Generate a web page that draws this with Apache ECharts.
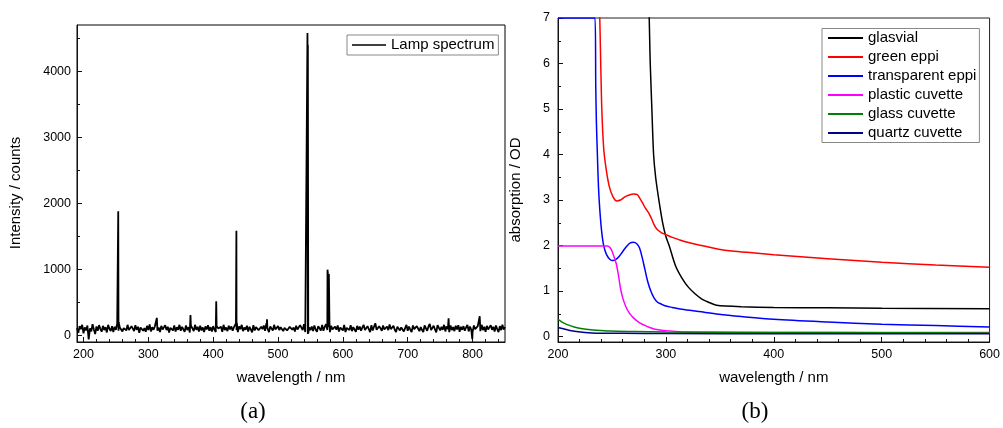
<!DOCTYPE html>
<html>
<head>
<meta charset="utf-8">
<script src="https://cdn.jsdelivr.net/npm/echarts@6/dist/echarts.min.js"></script>
<style>
html,body{margin:0;padding:0;background:#fff;}
#c{width:1003px;height:428px;}
</style>
</head>
<body>
<div id="c"></div>
<script>
// ---------- (a) Lamp spectrum ----------
const lampStart = 190, lampStep = 2;
const lampBase = [
 110, 40, 140, 95, 160, 30, 120, 75, 150, -60, 105, 60, 170, 90, 20, 135, 70, 155, 100, 55,
 145, 80, 125, 45, 160, 100, 65, 140, 50, 130, 85, 180, 70, 120, 150, 60, 110, 135, 75, 160,
 80, 50, 140, 105, 65, 155, 85, 130, 40, 120, 150, 70, 110, 55, 145, 80, 165, 60, 125, 85,
 135, 160, 70, 120, 50, 145, 90, 65, 155, 80, 130, 45, 115, 140, 75, 150, 60, 125, 85, 160,
 70, 130, 100, 55, 150, 80, 125, 45, 140, 105, 65, 160, 85, 130, 60, 145, 75, 120, 50, 135,
 90, 155, 70, 125, 60, 140, 85, 50, 150, 105, 75, 130, 55, 160, 80, 120, 65, 145, 90, 135,
 70, 125, 150, 80, 50, 135, 95, 160, 65, 120, 85, 145, 60, 130, 90, 45, 155, 75, 125, 140,
 80, 55, 130, 95, 150, 70, 180, 85, 50, 135, 120, 75, 160, 90, 60, 140, 80, 125, 155, 65,
 115, 140, 75, 50, 130, 160, 85, 120, 60, 145, 90, 70, 155, 125, 80, 170, 50, 30, 20, 120,
 80, 135, 65, 150, 90, 55, 140, 120, 75, 160, 70, 130, 170, 80, 125, 50, 145, 90, 65, 135,
 85, 150, 60, 120, 140, 75, 160, 50, 115, 130, 80, 155, 65, 125, 90, 55, 145, 85, 135, 70,
 120, 160, 80, 60, 140, 95, 50, 155, 75, 130, 185, 85, 55, 140, 120, 70, 150, 90, 60, 135,
 80, 165, 95, 65, 145, 85, 50, 130, 155, 75, 120, 140, 60, 110, 160, 70, 135, 85, 50, 150,
 95, 75, 140, 160, 65, 125, 85, 50, 150, 120, 70, 135, 175, 80, 60, 145, 90, 45, 155, 125,
 75, 130, 85, 160, 60, 140, 95, 50, 150, 80, 125, 65, 145, 90, 155, 55, 130, 85, 140, 70,
 120, 160, 60, 135, 85, 50, 150, 95, 75, 140, 125, 65, 160, 80, 130, 55, 145, 90, 70, 155,
 85, 130, 60, 150, 95, 50, 140, 80, 160, 90, 125
];
const lampPeaks = [
 [252.9, 160], [253.6, 1880], [254.3, 200],
 [312.5, 150], [313.1, 265], [313.7, 140],
 [364.4, 160], [365.0, 310], [365.6, 150],
 [404.1, 150], [404.7, 515], [405.3, 140],
 [435.1, 180], [435.8, 1585], [436.5, 190],
 [482.4, 120], [483.0, 245], [483.6, 110],
 [544.8, 60], [545.4, 4580], [546.0, 4400], [546.6, 30],
 [575.6, 180], [576.3, 995], [577.3, 890], [578.4, 930], [579.3, 200],
 [763.0, 260], [799.6, -55], [811.0, 290]
];
const lampXTicks = [200, 300, 400, 500, 600, 700, 800];
const lampXMinor = [220,240,260,280,320,340,360,380,420,440,460,480,520,540,560,580,620,640,660,680,720,740,760,780,820,840];
const lampYTicks = [0, 1000, 2000, 3000, 4000];
const lampYMinor = [500, 1500, 2500, 3500, 4500];

// ---------- (b) Absorption ----------
const absNames = ['glasvial', 'green eppi', 'transparent eppi', 'plastic cuvette', 'glass cuvette', 'quartz cuvette'];
const absColors = ['#000000', '#ff0000', '#0000ff', '#ff00ff', '#008000', '#00008b'];
const glasvial = [[284.3,7.3],[285,6.5],[285.5,6.0],[287,5.0],[288.6,4.0],[290.5,3.5],[293.5,3.0],[297,2.5],[300,2.2],[303,2.0],[309,1.55],[315,1.28],[321,1.08],[327,0.94],[333,0.83],[338,0.77],[342,0.73],[347,0.69],[355,0.67],[370,0.655],[400,0.64],[450,0.63],[500,0.62],[600,0.61]];
const greenEppi = [[238.4,7.3],[239,6.7],[239.6,6.0],[240.6,5.0],[242.3,4.15],[244.5,3.7],[247.5,3.3],[251,3.07],[254.5,2.98],[258,3.0],[262,3.07],[266,3.11],[270,3.13],[273.5,3.12],[276,3.03],[278.5,2.93],[281,2.82],[284,2.72],[286.5,2.6],[289,2.46],[292,2.35],[296,2.28],[300,2.24],[306,2.18],[312,2.13],[320,2.07],[330.6,2.01],[349,1.92],[361,1.88],[380,1.84],[400,1.8],[450,1.71],[500,1.63],[550,1.57],[600,1.52]];
const transparentEppi = [[200,7],[234.3,7],[235,5.5],[235.6,4.7],[236.5,4.0],[237.5,3.3],[238.7,2.8],[240.5,2.3],[242.5,1.98],[245,1.8],[248,1.7],[251,1.67],[254,1.7],[257,1.77],[260,1.87],[263.5,1.98],[267,2.06],[270,2.07],[273,2.04],[275.5,1.95],[278,1.74],[280.5,1.48],[283,1.22],[286,1.0],[289,0.85],[292,0.76],[296,0.71],[300,0.67],[306,0.64],[315,0.6],[330.6,0.55],[349,0.49],[370,0.44],[400,0.38],[450,0.32],[500,0.27],[550,0.24],[600,0.21]];
const plasticCuvette = [[200,1.99],[220,1.99],[240,1.99],[246,1.99],[248,1.96],[250,1.88],[252,1.75],[254,1.6],[256,1.35],[258,1.05],[260,0.85],[263,0.65],[266,0.52],[270,0.41],[275,0.31],[280,0.25],[285,0.2],[290,0.16],[300,0.13],[320,0.1],[400,0.09],[500,0.09],[600,0.09]];
const glassCuvette = [[200,0.38],[203,0.33],[206,0.29],[210,0.25],[215,0.21],[220,0.18],[226,0.16],[235,0.14],[248,0.12],[270,0.11],[300,0.1],[400,0.09],[500,0.085],[600,0.08]];
const quartzCuvette = [[200,0.2],[205,0.17],[210,0.14],[217,0.11],[225,0.09],[236,0.075],[260,0.07],[300,0.065],[400,0.06],[600,0.06]];
const absXTicks = [200, 300, 400, 500, 600];
const absXMinor = [220,240,260,280,320,340,360,380,420,440,460,480,520,540,560,580];
const absYTicks = [0, 1, 2, 3, 4, 5, 6, 7];
const absYMinor = [0.5, 1.5, 2.5, 3.5, 4.5, 5.5, 6.5];

const FONT = 'Liberation Sans, Arial, sans-serif';

function buildLamp() {
  const pts = lampBase.map((v, i) => [lampStart + i * lampStep, v]);
  return pts.concat(lampPeaks).sort((a, b) => a[0] - b[0]);
}

function mainAxis(gridIndex, min, max, ticks, extra, labelMargin) {
  return Object.assign({
    type: 'value', gridIndex: gridIndex, min: min, max: max,
    splitLine: { show: false },
    axisLine: { show: true, onZero: false, lineStyle: { color: '#111', width: 1 } },
    axisTick: { show: true, inside: true, length: 5, customValues: ticks, lineStyle: { color: '#111' } },
    axisLabel: { show: true, customValues: ticks, color: '#000', fontSize: 12.5, fontFamily: FONT,
      margin: labelMargin || 6, formatter: function (v) { return String(v); } }
  }, extra || {});
}
function minorAxis(gridIndex, min, max, ticks, position) {
  return {
    type: 'value', gridIndex: gridIndex, min: min, max: max, position: position,
    splitLine: { show: false },
    axisLine: { show: false, onZero: false },
    axisTick: { show: true, inside: true, length: 3, customValues: ticks, lineStyle: { color: '#111' } },
    axisLabel: { show: false }
  };
}

const absData = [glasvial, greenEppi, transparentEppi, plasticCuvette, glassCuvette, quartzCuvette];
const xName = { fontSize: 15, fontFamily: FONT, color: '#000' };

const option = {
  animation: false,
  backgroundColor: '#fff',
  grid: [
    { left: 77, top: 25, width: 428, height: 317, show: true, borderColor: '#000', borderWidth: 1, backgroundColor: 'transparent' },
    { left: 558, top: 18, width: 435, height: 324, show: true, borderColor: '#222', borderWidth: 1, backgroundColor: 'transparent' }
  ],
  xAxis: [
    mainAxis(0, 190, 850, lampXTicks, { position: 'bottom', name: 'wavelength / nm', nameLocation: 'middle', nameGap: 28, nameTextStyle: xName }),
    minorAxis(0, 190, 850, lampXMinor, 'bottom'),
    mainAxis(1, 200, 600, absXTicks, { position: 'bottom', name: 'wavelength / nm', nameLocation: 'middle', nameGap: 28, nameTextStyle: xName }),
    minorAxis(1, 200, 600, absXMinor, 'bottom')
  ],
  yAxis: [
    mainAxis(0, -100, 4700, lampYTicks, { position: 'left' }),
    minorAxis(0, -100, 4700, lampYMinor, 'left'),
    mainAxis(1, -0.12, 7, absYTicks, { position: 'left' }, 8),
    minorAxis(1, -0.12, 7, absYMinor, 'left')
  ],
  legend: [
    {
      data: ['Lamp spectrum'], left: 347, top: 35, orient: 'vertical', icon: 'rect',
      itemWidth: 34, itemHeight: 1.5, itemGap: 0, padding: [1, 4, 1, 5],
      borderColor: '#888', borderWidth: 1, selectedMode: false,
      textStyle: { fontSize: 15, fontFamily: FONT, color: '#000', lineHeight: 18 }
    },
    {
      data: absNames, left: 822, top: 28.5, orient: 'vertical', icon: 'rect',
      itemWidth: 35, itemHeight: 2, itemGap: 0, padding: [0, 3, 0, 6],
      borderColor: '#888', borderWidth: 1, selectedMode: false,
      textStyle: { fontSize: 15, fontFamily: FONT, color: '#000', lineHeight: 19 }
    }
  ],
  graphic: [
    { type: 'text', x: 16, y: 193, rotation: Math.PI / 2,
      style: { text: 'Intensity / counts', font: '15px ' + FONT, fill: '#000', textAlign: 'center', textVerticalAlign: 'middle' } },
    { type: 'text', x: 516, y: 190, rotation: Math.PI / 2,
      style: { text: 'absorption / OD', font: '15px ' + FONT, fill: '#000', textAlign: 'center', textVerticalAlign: 'middle' } },
    { type: 'text', x: 253, y: 412,
      style: { text: '(a)', font: '23px Liberation Serif, DejaVu Serif, serif', fill: '#000', textAlign: 'center', textVerticalAlign: 'middle' } },
    { type: 'text', x: 755, y: 412,
      style: { text: '(b)', font: '23px Liberation Serif, DejaVu Serif, serif', fill: '#000', textAlign: 'center', textVerticalAlign: 'middle' } }
  ],
  series: [
    {
      name: 'Lamp spectrum', type: 'line', xAxisIndex: 0, yAxisIndex: 0,
      data: buildLamp(), symbol: 'none', sampling: null, clip: true,
      lineStyle: { color: '#000', width: 1.8 }, itemStyle: { color: '#000' }
    }
  ].concat(absNames.map((n, i) => ({
      name: n, type: 'line', xAxisIndex: 2, yAxisIndex: 2,
      data: absData[i], symbol: 'none', smooth: 0.3, clip: true,
      lineStyle: { color: absColors[i], width: 1.5 }, itemStyle: { color: absColors[i] }
  })))
};

const chart = echarts.init(document.getElementById('c'), null, { renderer: 'canvas' });
chart.setOption(option);
</script>
</body>
</html>
